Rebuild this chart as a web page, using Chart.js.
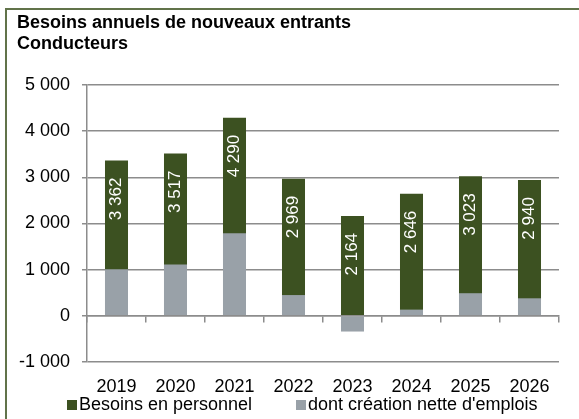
<!DOCTYPE html>
<html>
<head>
<meta charset="utf-8">
<script src="https://cdn.jsdelivr.net/npm/chart.js@4.4.0/dist/chart.umd.min.js"></script>
<style>
  html, body { margin: 0; padding: 0; background: #fff; }
  #wrap { position: relative; width: 579px; height: 419px; }
  #frame { position: absolute; left: 5px; top: 8px; right: 0; bottom: 0;
           border-left: 2px solid #61734a; border-top: 2px solid #61734a; pointer-events: none; }
</style>
</head>
<body>
<div id="wrap">
  <canvas id="chart" width="579" height="419"></canvas>
  <div id="frame"></div>
</div>
<script>
const years = ['2019', '2020', '2021', '2022', '2023', '2024', '2025', '2026'];
// total hiring needs, of which net job creation
const besoins = [3362, 3517, 4290, 2969, 2164, 2646, 3023, 2940];
const creation = [1010, 1110, 1790, 450, -340, 135, 490, 380];
const yMin = -1000, yMax = 5000, yStep = 1000;

const GREEN = '#3c5121';
const GREY = '#99a1a8';
const AXIS = '#8c8c8c';
const FONT = '"Liberation Sans", Arial, sans-serif';

Chart.defaults.font.family = FONT;
Chart.defaults.color = '#000';

// "3 362" style thousands
function fmt(v) {
  const s = String(Math.abs(v)).replace(/\B(?=(\d{3})+(?!\d))/g, ' ');
  return (v < 0 ? '-' : '') + s;
}

// vertical white value labels near the top of each green bar
const barLabels = {
  id: 'barLabels',
  afterDatasetsDraw(chart) {
    const meta = chart.getDatasetMeta(0);
    const ctx = chart.ctx;
    ctx.save();
    ctx.fillStyle = '#fff';
    ctx.font = '17px ' + FONT;
    ctx.textAlign = 'right';
    ctx.textBaseline = 'middle';
    meta.data.forEach((bar, i) => {
      ctx.save();
      ctx.translate(bar.x, bar.y + 17);
      ctx.rotate(-Math.PI / 2);
      ctx.fillText(fmt(besoins[i]), 0, 0);
      ctx.restore();
    });
    ctx.restore();
  }
};

// legend row under the year labels
const legendRow = {
  id: 'legendRow',
  afterDraw(chart) {
    const ctx = chart.ctx;
    const y = chart.chartArea.bottom + 43;
    const xs = [67, 296];
    ctx.save();
    ctx.font = '18px ' + FONT;
    ctx.textBaseline = 'middle';
    chart.data.datasets.forEach((ds, i) => {
      ctx.fillStyle = ds.backgroundColor;
      ctx.fillRect(xs[i], y - 5, 10, 10);
      ctx.fillStyle = '#000';
      ctx.fillText(ds.label, xs[i] + 12, y);
    });
    ctx.restore();
  }
};

new Chart(document.getElementById('chart'), {
  type: 'bar',
  data: {
    labels: years,
    datasets: [{
      label: 'Besoins en personnel',
      data: besoins,
      backgroundColor: GREEN,
      barPercentage: 0.39,
      categoryPercentage: 1,
      order: 1
    }, {
      label: 'dont création nette d\'emplois',
      data: creation,
      backgroundColor: GREY,
      barPercentage: 0.39,
      categoryPercentage: 1,
      order: 0
    }]
  },
  options: {
    responsive: false,
    animation: false,
    layout: { padding: { left: 17, right: 20, top: 3, bottom: 0 } },
    plugins: {
      legend: { display: false },
      tooltip: { enabled: false },
      title: {
        display: true,
        align: 'start',
        text: ['Besoins annuels de nouveaux entrants', 'Conducteurs'],
        font: { size: 18, weight: 'bold', lineHeight: 21 / 18 },
        padding: { top: 10, bottom: 30 }
      }
    },
    scales: {
      x: {
        stacked: true,
        offset: true,
        grid: { display: false, drawTicks: false },
        border: { display: false },
        ticks: { font: { size: 18 }, padding: 14 },
        afterFit(scale) { scale.height = 57; }
      },
      x0: {
        type: 'category',
        labels: years,
        position: { y: 0 },
        offset: true,
        grid: { offset: true, drawOnChartArea: false, drawTicks: true, tickLength: 6, color: AXIS, lineWidth: 1.5 },
        border: { display: true, color: AXIS, width: 1.5 },
        ticks: { display: false }
      },
      y: {
        stacked: false,
        min: yMin,
        max: yMax,
        ticks: { stepSize: yStep, font: { size: 18 }, padding: 12, callback: v => fmt(v) },
        grid: { color: AXIS, lineWidth: 1.5, tickLength: 5, drawTicks: true },
        border: { color: AXIS, width: 1.5 },
        afterFit(scale) { scale.width = 70; }
      }
    }
  },
  plugins: [barLabels, legendRow]
});
</script>
</body>
</html>
